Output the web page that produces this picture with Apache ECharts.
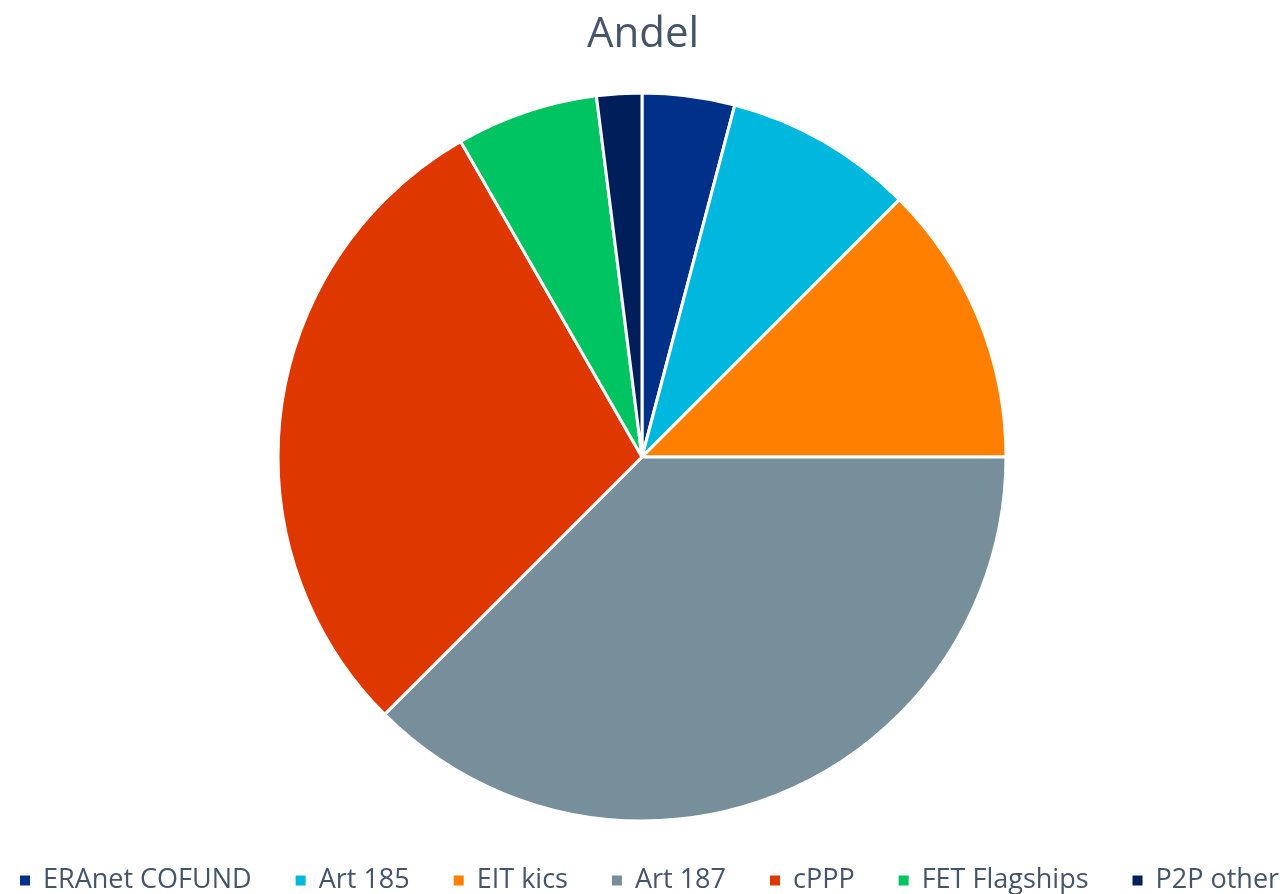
<!DOCTYPE html>
<html>
<head>
<meta charset="utf-8">
<script src="https://cdn.jsdelivr.net/npm/echarts@6/dist/echarts.min.js"></script>
<style>
  html, body { margin: 0; padding: 0; background: #fff; }
  #main { width: 1286px; height: 894px; }
</style>
</head>
<body>
<div id="main"></div>
<script>
var categories = ['ERAnet COFUND', 'Art 185', 'EIT kics', 'Art 187', 'cPPP', 'FET Flagships', 'P2P other'];
var shares = [4.1, 8.4, 12.5, 37.5, 29.2, 6.3, 2.0];
var colors = ['#003087', '#00B8DE', '#FF8000', '#778F9B', '#DE3700', '#00C462', '#001E5A'];

var myChart = echarts.init(document.getElementById('main'));

var pieData = [];
for (var i = 0; i < categories.length; i++) {
    pieData.push({ name: categories[i], value: shares[i] });
}

var option = {
    color: colors,
    title: {
        text: 'Andel',
        left: 'center',
        top: 9,
        textStyle: {
            color: '#44546A',
            fontFamily: 'Open Sans',
            fontSize: 42,
            fontWeight: 'normal'
        }
    },
    legend: {
        bottom: -5,
        left: 13,
        width: 1273,
        padding: [5, 0, 5, 5],
        icon: 'rect',
        itemWidth: 12,
        itemHeight: 12,
        itemGap: 42,
        textStyle: {
            color: '#44546A',
            fontFamily: 'Open Sans',
            fontSize: 27,
            padding: [0, 0, 0, 7]
        }
    },
    series: [
        {
            type: 'pie',
            center: [642, 457],
            radius: 364,
            startAngle: 90,
            clockwise: true,
            label: { show: false },
            labelLine: { show: false },
            itemStyle: {
                borderColor: '#fff',
                borderWidth: 3
            },
            data: pieData
        }
    ]
};

myChart.setOption(option);
window.addEventListener('resize', function () {
    myChart.resize();
});
</script>
</body>
</html>
